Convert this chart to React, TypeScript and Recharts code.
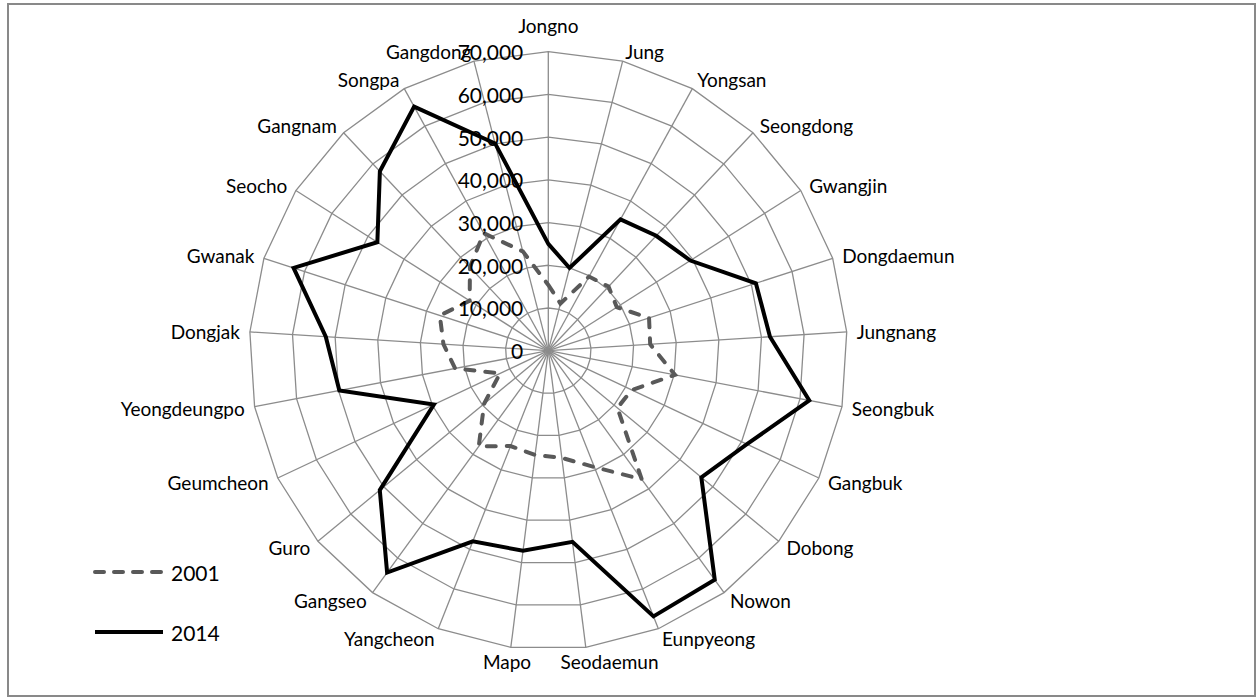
import React from 'react';
import { RadarChart, Radar, PolarGrid, PolarAngleAxis, PolarRadiusAxis, Legend } from 'recharts';

const districts = [
  'Jongno', 'Jung', 'Yongsan', 'Seongdong', 'Gwangjin', 'Dongdaemun', 'Jungnang', 'Seongbuk',
  'Gangbuk', 'Dobong', 'Nowon', 'Eunpyeong', 'Seodaemun', 'Mapo', 'Yangcheon', 'Gangseo',
  'Guro', 'Geumcheon', 'Yeongdeungpo', 'Dongjak', 'Gwanak', 'Seocho', 'Gangnam', 'Songpa', 'Gangdong',
];
const values2001 = [
  15400, 11400, 19800, 20600, 19000, 24800, 23900, 30200, 21600, 21000, 37200, 29300, 25300,
  24600, 24000, 27700, 19500, 12500, 22200, 24600, 26700, 21800, 26800, 31400, 24000,
];
const values2014 = [
  25000, 20000, 35100, 36900, 39400, 51100, 52000, 62200, 51400, 46500, 66300, 66900, 45100,
  47200, 48000, 64200, 51200, 29600, 49800, 52200, 62700, 47400, 57600, 65200, 50100,
];
const radiusTicks = [0, 10000, 20000, 30000, 40000, 50000, 60000, 70000];

const data = districts.map((name, i) => ({ name, y2001: values2001[i], y2014: values2014[i] }));

const W = 1256;
const H = 698;
const CX = 548.3;
const CY = 350.7;
const R = 299;
const FONT = 'Lato, "Open Sans", sans-serif';

const DASH_2001 = '9 11';

// district names sit just outside the outer ring, left/right aligned by side
const AngleTick = (props: any) => {
  const { x, y, payload } = props;
  const dx = x - CX;
  const dy = y - CY;
  const len = Math.hypot(dx, dy) || 1;
  const ux = dx / len;
  const uy = dy / len;
  let px = CX + ux * (R + 10);
  let py = CY + uy * (R + 10);
  let anchor: 'start' | 'end' | 'middle' = 'middle';
  if (ux > 0.2) anchor = 'start';
  else if (ux < -0.2) anchor = 'end';
  if (anchor === 'middle') {
    if (uy < 0) {
      py -= 16;
    } else {
      py += 4;
      // spread the two bottom names apart
      px += ux * 100 + 10;
    }
  }
  return (
    <text x={px} y={py} textAnchor={anchor} dominantBaseline="central" fontSize={19} fontFamily={FONT} fill="#000">
      {payload.value}
    </text>
  );
};

const RadiusTick = (props: any) => {
  const { x, y, payload } = props;
  return (
    <text x={x - 25} y={y} textAnchor="end" dominantBaseline="central" fontSize={21} fontFamily={FONT} fill="#000">
      {Number(payload.value).toLocaleString('en-US')}
    </text>
  );
};

const renderLegend = (props: any) => {
  const items = props.payload || [];
  return (
    <div style={{ fontFamily: FONT, fontSize: 21, color: '#000' }}>
      {items.map((item: any, i: number) => (
        <div key={item.value} style={{ display: 'flex', alignItems: 'center', height: 20, marginBottom: i === 0 ? 40 : 0 }}>
          <svg width={72} height={20} style={{ display: 'block' }}>
            <line
              x1={2}
              x2={70}
              y1={10}
              y2={10}
              stroke={item.color}
              strokeWidth={4}
              strokeLinecap={item.dataKey === 'y2001' ? 'round' : 'butt'}
              strokeDasharray={item.dataKey === 'y2001' ? '9 10' : undefined}
            />
          </svg>
          <span style={{ marginLeft: 6 }}>{item.value}</span>
        </div>
      ))}
    </div>
  );
};

export default function App() {
  return (
    <div style={{ position: 'absolute', left: 0, top: 0, width: W, height: H, background: '#fff' }}>
      <div
        style={{
          position: 'absolute',
          left: 7,
          top: 3,
          width: 1249,
          height: 694,
          boxSizing: 'border-box',
          border: '2px solid #898989',
        }}
      />
      <div style={{ position: 'absolute', left: 0, top: 0 }}>
        <RadarChart width={W} height={H} data={data} cx={CX} cy={CY} outerRadius={R} margin={{ top: 0, right: 0, bottom: 0, left: 0 }}>
          <PolarGrid gridType="polygon" stroke="#8c8c8c" strokeWidth={1.3} />
          <PolarAngleAxis dataKey="name" tick={AngleTick} tickLine={false} axisLine={false} />
          <PolarRadiusAxis
            angle={90}
            domain={[0, 70000]}
            ticks={radiusTicks as any}
            tickCount={8}
            tick={RadiusTick}
            axisLine={false}
            tickLine={false}
          />
          <Radar
            name="2001"
            dataKey="y2001"
            stroke="#595959"
            strokeWidth={4}
            strokeDasharray={DASH_2001}
            strokeLinecap="round"
            fill="none"
            fillOpacity={0}
            dot={false}
            isAnimationActive={false}
          />
          <Radar
            name="2014"
            dataKey="y2014"
            stroke="#000"
            strokeWidth={4}
            fill="none"
            fillOpacity={0}
            dot={false}
            isAnimationActive={false}
          />
          <Legend content={renderLegend} wrapperStyle={{ left: 93, top: 562, width: 160, bottom: 'auto', right: 'auto' }} />
        </RadarChart>
      </div>
    </div>
  );
}
